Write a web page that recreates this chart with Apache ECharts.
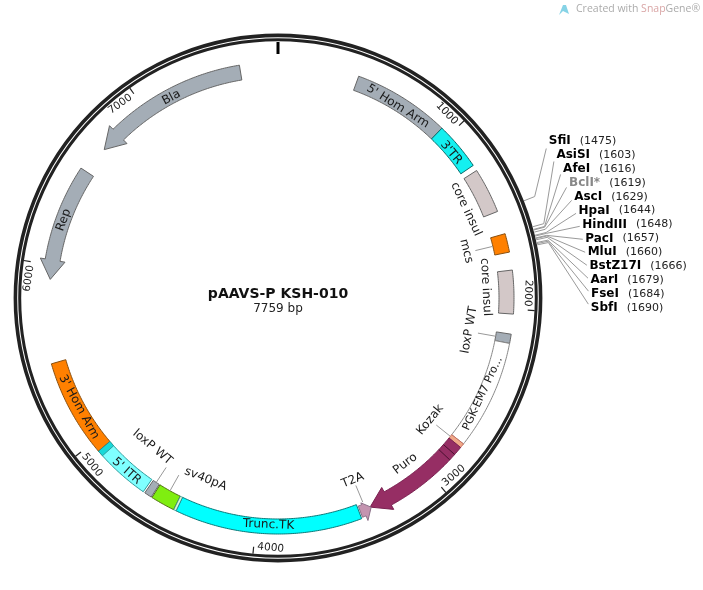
<!DOCTYPE html>
<html>
<head>
<meta charset="utf-8">
<style>html,body{margin:0;padding:0;background:#fff}#c{width:703px;height:590px}</style>
<script src="https://cdn.jsdelivr.net/npm/echarts@6/dist/echarts.min.js"></script>
</head>
<body>
<div id="c"></div>
<script>
// ---------- DATA (base pairs) ----------
const plasmidName = 'pAAVS-P KSH-010';
const totalBp = 7759;
const tickValues = [0, 1000, 2000, 3000, 4000, 5000, 6000, 7000];
const tickLabels = ['', '1000', '2000', '3000', '4000', '5000', '6000', '7000'];

const featureNames = ['Bla', 'Rep', "5' Hom Arm", "3'TR", 'core insul', 'mcs', 'core insul', 'loxP WT',
  'PGK-EM7 Pro...', 'Kozak', 'Puro', 'T2A', 'Trunc.TK', 'sv40pA', 'loxP WT', "5' ITR", "3' Hom Arm"];
const featureStart = [7556, 6539, 431, 948, 1235, 1599, 1793, 2130, 2179, 2763, 2787, 3425, 3432, 4445, 4580, 4630, 4947];
const featureEnd   = [6692, 5920, 948, 1203, 1476, 1698, 2024, 2179, 2763, 2787, 3367, 3362, 4431, 4575, 4620, 4947, 5470];
const featureHeadBase = [6803, 6025, null, null, null, null, null, null, null, null, 3261, 3405, null, null, null, null, null];

const siteNames = ['SfiI', 'AsiSI', 'AfeI', 'BclI*', 'AscI', 'HpaI', 'HindIII', 'PacI', 'MluI', 'BstZ17I', 'AarI', 'FseI', 'SbfI'];
const sitePositions = [1475, 1603, 1616, 1619, 1629, 1644, 1648, 1657, 1660, 1666, 1679, 1684, 1690];

const puroDividers = [2835, 2873];
const bandStart = [4915, 4431];
const bandEnd = [4947, 4445];

// ---------- STYLE / LAYOUT ----------
const CX = 278, CY = 298;
const FONT = '"DejaVu Sans", Verdana, sans-serif';
const featureFill = ['#A4ADB6', '#A4ADB6', '#A4ADB6', '#14F0F0', '#D3C8C8', '#FF8000', '#D3C8C8', '#A4ADB6',
  '#FFFFFF', '#F0A888', '#962E64', '#C494B0', '#00FFFF', '#7FEE10', '#A4ADB6', '#7FFFFF', '#FF8000'];
const featureStroke = ['#666', '#666', '#666', '#0A6A6A', '#666', '#8A5010', '#666', '#666',
  '#888', '#C87060', '#7A2050', '#8A7088', '#0A7A7A', '#507010', '#666', '#2A9A9A', '#8A5010'];
const bandFill = ['#18D8D8', '#D8F4D8'];
// per feature: [label radius, label angle in degrees, text rotation in degrees, font size, has leader line]
const labelPlace = [
  [227, 332, -28, 12, 0], [228, 290, -70, 12, 0], [226, 32, 32, 12, 0], [226, 50, 50, 12, 0],
  [208, 64.7, 65, 12, 0], [194, 76, 76, 12, 1], [208, 87, 87, 12, 0], [194, 99.5, -80, 12, 1],
  [226, 115, -65, 11, 0], [195, 128.7, -51, 12, 1], [209, 142.5, -37.5, 12, 0], [197, 157.7, -22, 12, 1],
  [227, 182.4, 2.4, 12, 0], [195, 201.8, 21.8, 12, 1], [195, 220.1, 40, 12, 1], [230, 221.2, 41, 12, 0], [227, 241.3, 61.3, 12, 0]
];
const R_IN = 221, R_OUT = 236, R_WIN = 216, R_WOUT = 241;
const SITE_R = 313, SITE_TOP = -157, SITE_STEP = 13.92;

const deg2bp = d => d / 360 * totalBp;
const bp2deg = b => b / totalBp * 360;

function arcPts(api, r, a, b) {
  const n = Math.max(2, Math.ceil(Math.abs(b - a) / 10));
  const out = [];
  for (let i = 0; i <= n; i++) out.push(api.coord([r, a + (b - a) * i / n]));
  return out;
}
function rotText(api, r, bpPos, rotDeg, text, size, fill) {
  const p = api.coord([r, bpPos]);
  return { type: 'text', x: p[0], y: p[1], rotation: -rotDeg * Math.PI / 180, silent: true,
    style: { text, fill: fill || '#1a1a1a', font: size + 'px ' + FONT, align: 'center', verticalAlign: 'middle' } };
}
function renderFeature(params, api) {
  const i = api.value(2);
  const s = featureStart[i], e = featureEnd[i], h = featureHeadBase[i];
  const small = featureNames[i] === 'T2A';
  const rin = small ? 223 : R_IN, rout = small ? 235 : R_OUT;
  const wi = small ? 221 : R_WIN, wo = small ? 240 : R_WOUT;
  let pts;
  if (h === null) {
    pts = arcPts(api, R_OUT, s, e).concat(arcPts(api, R_IN, e, s));
  } else {
    pts = arcPts(api, rout, s, h)
      .concat([api.coord([wo, h]), api.coord([(rin + rout) / 2, e]), api.coord([wi, h])])
      .concat(arcPts(api, rin, h, s));
  }
  const children = [{ type: 'polygon', shape: { points: pts }, silent: true,
    style: { fill: featureFill[i], stroke: featureStroke[i], lineWidth: 1 } }];
  const pl = labelPlace[i];
  if (pl[4]) {
    const m = (s + e) / 2;
    children.push({ type: 'polyline', silent: true,
      shape: { points: [api.coord([203, m]), api.coord([221, m])] },
      style: { stroke: '#999', lineWidth: 1, fill: 'none' } });
  }
  children.push(rotText(api, pl[0], deg2bp(pl[1]), pl[2], featureNames[i], pl[3]));
  return { type: 'group', children };
}
function renderBand(params, api) {
  const i = api.value(2);
  const pts = arcPts(api, R_OUT, bandStart[i], bandEnd[i]).concat(arcPts(api, R_IN, bandEnd[i], bandStart[i]));
  return { type: 'polygon', shape: { points: pts }, silent: true,
    style: { fill: bandFill[i], stroke: '#2A8A8A', lineWidth: 0.8 } };
}
function renderDivider(params, api) {
  const v = api.value(1);
  return { type: 'polyline', silent: true, shape: { points: [api.coord([R_IN, v]), api.coord([R_OUT, v])] },
    style: { stroke: '#4A1030', lineWidth: 1, fill: 'none' } };
}
function renderRing(params, api) {
  const c = api.coord([0, 0]);
  const r = api.value(0);
  return { type: 'circle', silent: true, shape: { cx: c[0], cy: c[1], r },
    style: { fill: 'none', stroke: '#222', lineWidth: api.value(2) } };
}
function renderTick(params, api) {
  const i = api.value(2);
  const v = tickValues[i];
  if (v === 0) {
    return { type: 'polyline', silent: true, shape: { points: [api.coord([256, v]), api.coord([244, v])] },
      style: { stroke: '#000', lineWidth: 3, fill: 'none' } };
  }
  const th = bp2deg(v);
  const upper = th < 93 || th > 270;
  const off = deg2bp((17 / 249) * 180 / Math.PI);
  const rot = upper ? (th > 180 ? th - 360 : th) : th - 180;
  return { type: 'group', children: [
    { type: 'polyline', silent: true, shape: { points: [api.coord([257, v]), api.coord([250, v])] },
      style: { stroke: '#222', lineWidth: 1.2, fill: 'none' } },
    rotText(api, 250, v - off, rot, tickLabels[i], 10.5, '#222')
  ] };
}
function siteLabelBp(i) {
  const dy = SITE_TOP + i * SITE_STEP;
  const dx = Math.sqrt(SITE_R * SITE_R - dy * dy);
  return deg2bp(Math.atan2(dx, -dy) * 180 / Math.PI);
}
function renderSite(params, api) {
  const i = api.value(2);
  const pos = sitePositions[i];
  const a = api.coord([264.5, pos]), b = api.coord([276, pos]);
  const lab = api.coord([SITE_R, siteLabelBp(i)]);
  const endPt = [lab[0] - 2.5, lab[1] + 7.5 - i * 0.95];
  const gray = siteNames[i] === 'BclI*';
  return { type: 'group', children: [
    { type: 'polyline', silent: true, shape: { points: [a, b, endPt] },
      style: { stroke: '#9a9a9a', lineWidth: 1, fill: 'none' } },
    { type: 'text', x: lab[0], y: lab[1], silent: true, style: {
      text: '{' + (gray ? 'g' : 'n') + '|' + siteNames[i] + '}{v|(' + pos + ')}',
      align: 'left', verticalAlign: 'middle',
      rich: {
        n: { font: 'bold 12px ' + FONT, fill: '#000' },
        g: { font: 'bold 12px ' + FONT, fill: '#888' },
        v: { font: '11px ' + FONT, fill: '#222', padding: [0, 0, 0, 9] }
      } } }
  ] };
}
function customSeries(render, data, z) {
  return { type: 'custom', coordinateSystem: 'polar', renderItem: render, data, z, silent: true, clip: false,
    encode: { radius: 0, angle: 1 } };
}
const chart = echarts.init(document.getElementById('c'), null, { renderer: 'canvas' });
chart.setOption({
  animation: false,
  backgroundColor: '#fff',
  title: {
    text: plasmidName, subtext: totalBp + ' bp', left: CX, top: 287, textAlign: 'center', itemGap: 2, padding: 0,
    textStyle: { fontFamily: FONT, fontSize: 14, fontWeight: 'bold', color: '#111' },
    subtextStyle: { fontFamily: FONT, fontSize: 12, color: '#222' }
  },
  polar: { center: [CX, CY], radius: 320 },
  angleAxis: { type: 'value', min: 0, max: totalBp, startAngle: 90, clockwise: true,
    axisLine: { show: false }, axisTick: { show: false }, axisLabel: { show: false }, splitLine: { show: false } },
  radiusAxis: { type: 'value', min: 0, max: 320,
    axisLine: { show: false }, axisTick: { show: false }, axisLabel: { show: false }, splitLine: { show: false } },
  tooltip: { show: false },
  graphic: [
    { type: 'polygon', left: 559, top: 5, shape: { points: [[0, 10], [4, 0], [7, 0], [10, 9], [4, 6]] }, style: { fill: '#86D3E6' } },
    { type: 'text', left: 576, top: 4, style: {
      text: '{a|Created with }{s|Snap}{a|Gene®}',
      rich: { a: { font: '10.5px "Open Sans", sans-serif', fill: '#ababab' }, s: { font: '10.5px "Open Sans", sans-serif', fill: '#d9a5a5' } } } }
  ],
  series: [
    customSeries(renderRing, [[262.6, 0, 3.6], [258.3, 0, 3]], 1),
    customSeries(renderTick, tickValues.map((v, i) => [250, v, i]), 2),
    customSeries(renderSite, sitePositions.map((v, i) => [264, v, i]), 2),
    customSeries(renderFeature, featureNames.map((n, i) => [228, featureStart[i], i]), 3),
    customSeries(renderBand, bandStart.map((v, i) => [228, v, i]), 4),
    customSeries(renderDivider, puroDividers.map(v => [228, v]), 4)
  ]
});
</script>
</body>
</html>
